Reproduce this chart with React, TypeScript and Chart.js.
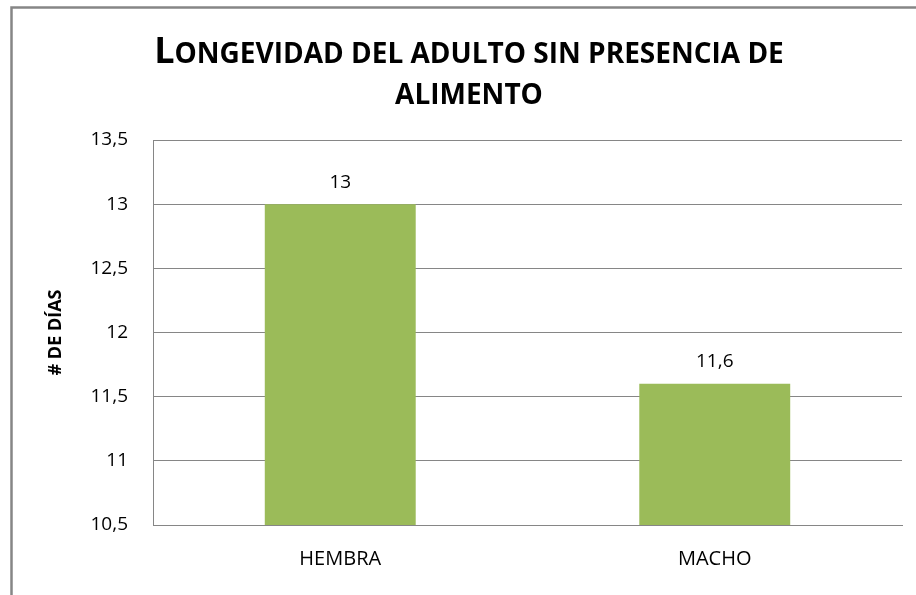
import React, { useEffect, useRef } from "react";
import { Chart, registerables } from "chart.js";

Chart.register(...registerables);

const categories = ["HEMBRA", "MACHO"];
const values = [13, 11.6];
const yMin = 10.5;
const yMax = 13.5;
const yStep = 0.5;
const titleCap = "L";
const titleRest1 = "ONGEVIDAD DEL ADULTO SIN PRESENCIA DE";
const titleLine2 = "ALIMENTO";
const yAxisTitle = "# DE DÍAS";

const FONT = '"Open Sans", "Noto Sans", sans-serif';
const fmt = (v: number) => String(v).replace(".", ",");

const decorPlugin = {
  id: "decor",
  beforeDraw(chart: any) {
    const ctx = chart.ctx;
    ctx.save();
    ctx.fillStyle = "#ffffff";
    ctx.fillRect(0, 0, chart.width, chart.height);
    ctx.strokeStyle = "#868686";
    ctx.lineWidth = 2.5;
    ctx.beginPath();
    ctx.moveTo(11.5, chart.height + 5);
    ctx.lineTo(11.5, 7.5);
    ctx.lineTo(chart.width + 5, 7.5);
    ctx.stroke();
    ctx.restore();
  },
  afterDraw(chart: any) {
    const ctx = chart.ctx;
    const area = chart.chartArea;
    ctx.save();
    // title
    ctx.fillStyle = "#000000";
    ctx.textBaseline = "alphabetic";
    ctx.textAlign = "left";
    const big = `bold 36px ${FONT}`;
    const small = `bold 28px ${FONT}`;
    ctx.font = big;
    const w1 = ctx.measureText(titleCap).width;
    ctx.font = small;
    const w2 = ctx.measureText(titleRest1).width;
    const cx = 469;
    const x0 = cx - (w1 + w2) / 2;
    ctx.font = big;
    ctx.fillText(titleCap, x0, 63);
    ctx.font = small;
    ctx.fillText(titleRest1, x0 + w1, 63);
    ctx.textAlign = "center";
    ctx.fillText(titleLine2, cx, 104);
    // y axis title
    ctx.save();
    ctx.translate(56, (area.top + area.bottom) / 2);
    ctx.rotate(-Math.PI / 2);
    ctx.font = `bold 18px ${FONT}`;
    ctx.textAlign = "center";
    ctx.textBaseline = "middle";
    ctx.fillText(yAxisTitle, 0, 0);
    ctx.restore();
    // data labels
    const meta = chart.getDatasetMeta(0);
    ctx.font = `19px ${FONT}`;
    ctx.textAlign = "center";
    ctx.textBaseline = "middle";
    meta.data.forEach((el: any, i: number) => {
      ctx.fillText(fmt(values[i]), el.x, el.y - 22);
    });
    ctx.restore();
  },
};

export default function App() {
  const ref = useRef<HTMLCanvasElement | null>(null);
  useEffect(() => {
    if (!ref.current) return;
    const chart = new Chart(ref.current, {
      type: "bar",
      data: {
        labels: categories,
        datasets: [
          {
            data: values,
            backgroundColor: "#9BBB59",
            borderWidth: 0,
            categoryPercentage: 1,
            barPercentage: 0.403,
          },
        ],
      },
      options: {
        animation: false,
        responsive: false,
        devicePixelRatio: 1,
        layout: { padding: { left: 0, top: 140, right: 14, bottom: 0 } },
        plugins: {
          legend: { display: false },
          title: { display: false },
          tooltip: { enabled: false },
        },
        scales: {
          x: {
            grid: { display: false, drawTicks: false },
            border: { display: true, color: "#868686", width: 1 },
            ticks: { color: "#000000", font: { family: FONT, size: 20 }, padding: 22 },
            afterFit(scale: any) {
              scale.height = 70;
            },
          },
          y: {
            min: yMin,
            max: yMax,
            grid: { color: "#868686", drawTicks: false, lineWidth: 1 },
            border: { display: true, color: "#868686", width: 1 },
            ticks: {
              stepSize: yStep,
              color: "#000000",
              font: { family: FONT, size: 19 },
              padding: 25,
              callback: (v: any) => fmt(Number(v)),
            },
            afterFit(scale: any) {
              scale.width = 153;
            },
          },
        },
      },
      plugins: [decorPlugin],
    });
    return () => chart.destroy();
  }, []);
  return (
    <div style={{ position: "fixed", left: 0, top: 0, width: 916, height: 595 }}>
      <canvas ref={ref} width={916} height={595} style={{ display: "block" }} />
    </div>
  );
}
